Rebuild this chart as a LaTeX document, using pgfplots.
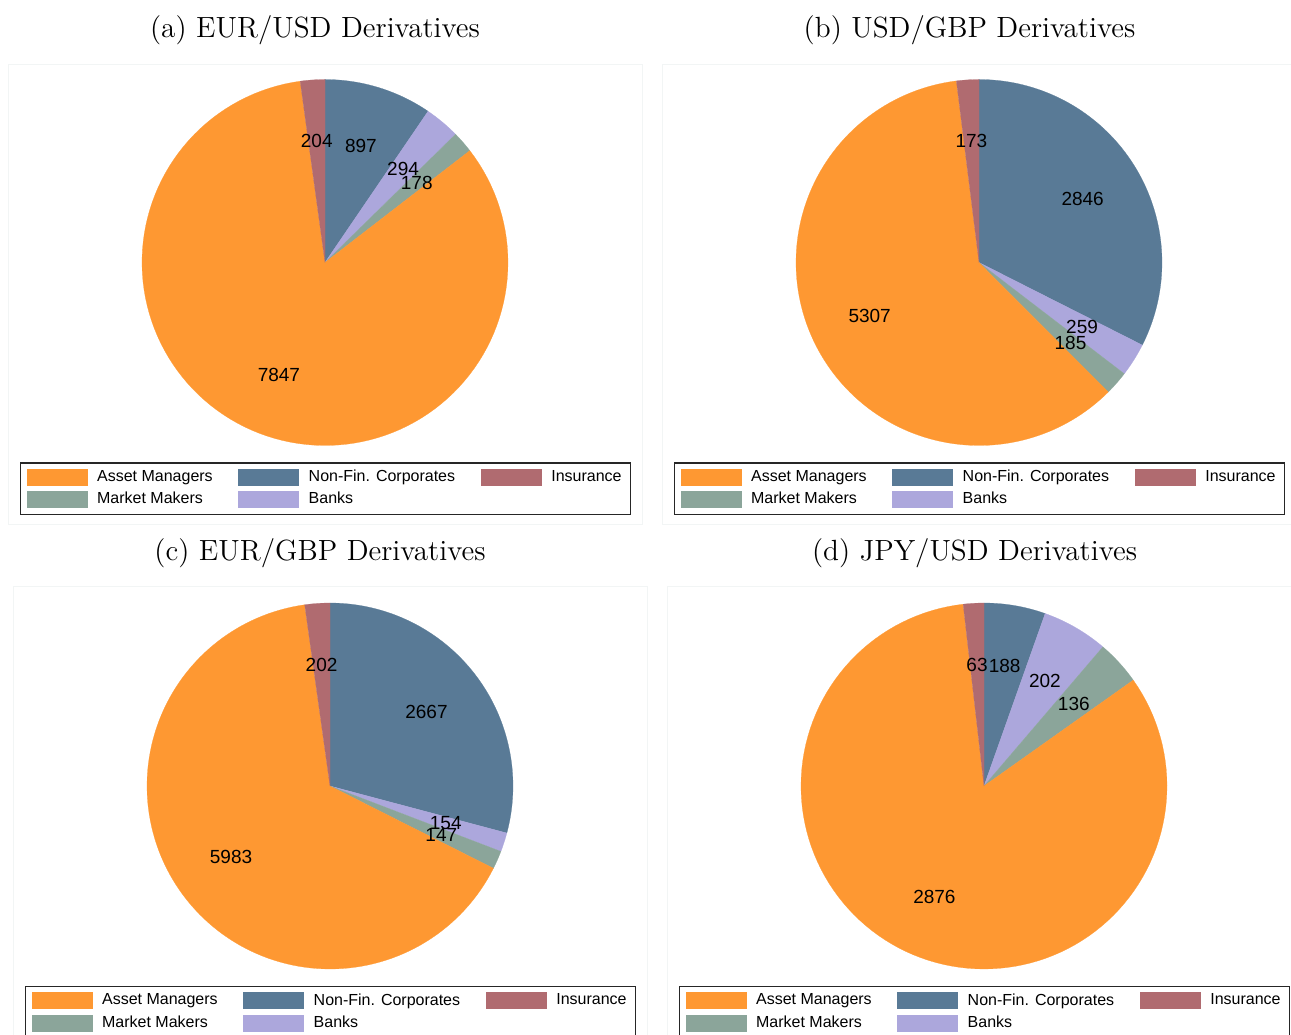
\documentclass[border=0pt]{standalone}
\usepackage{fontspec}
\usepackage{pgfplots}
\pgfplotsset{compat=1.18}
\newfontfamily\sansf{Liberation Sans}
\definecolor{amcol}{RGB}{254,152,50}
\definecolor{nfcol}{RGB}{89,122,150}
\definecolor{bkcol}{RGB}{172,167,220}
\definecolor{mmcol}{RGB}{139,165,154}
\definecolor{incol}{RGB}{176,107,112}
\definecolor{panelcol}{RGB}{242,245,245}
\newcommand{\lblfont}{\sansf\fontsize{9.5}{11}\selectfont}
\newcommand{\legfont}{\sansf\fontsize{8}{9.6}\selectfont}
\newcommand{\ttlfont}{\fontsize{14.6}{17.5}\selectfont}

\newcommand{\pieslice}[4]{% start, value, total, color
  \pgfmathsetmacro{\aS}{90-(#1)/(#3)*360}%
  \pgfmathsetmacro{\aE}{90-(#1+#2)/(#3)*360}%
  \edef\doit{\noexpand\addplot[fill=#4, draw=#4, line width=0.1pt, domain=\aE:\aS, samples=120, variable=\noexpand\t, forget plot] ({cos(\noexpand\t)},{sin(\noexpand\t)}) -- (axis cs:0,0) -- cycle;}%
  \doit
}
\newcommand{\pielabel}[3]{% start, value, total
  \pgfmathsetmacro{\aM}{90-(#1+0.5*#2)/(#3)*360}%
  \pgfmathsetmacro{\lx}{0.665*cos(\aM)}%
  \pgfmathsetmacro{\ly}{0.665*sin(\aM)}%
  \edef\doit{\noexpand\node[font=\noexpand\lblfont, inner sep=0pt] at (axis cs:\lx,\ly) {#2};}%
  \doit
}
% order: Non-Fin. Corporates, Banks, Market Makers, Asset Managers, Insurance (clockwise from top)
\newcommand{\drawpie}[5]{%
  \pgfmathsetmacro{\tot}{#1+#2+#3+#4+#5}%
  \pgfmathsetmacro{\cA}{#1}%
  \pgfmathsetmacro{\cB}{#1+#2}%
  \pgfmathsetmacro{\cC}{#1+#2+#3}%
  \pgfmathsetmacro{\cD}{#1+#2+#3+#4}%
  \pieslice{0}{#1}{\tot}{nfcol}%
  \pieslice{\cA}{#2}{\tot}{bkcol}%
  \pieslice{\cB}{#3}{\tot}{mmcol}%
  \pieslice{\cC}{#4}{\tot}{amcol}%
  \pieslice{\cD}{#5}{\tot}{incol}%
  \pielabel{0}{#1}{\tot}%
  \pielabel{\cA}{#2}{\tot}%
  \pielabel{\cB}{#3}{\tot}%
  \pielabel{\cC}{#4}{\tot}%
  \pielabel{\cD}{#5}{\tot}%
}
\newcommand{\pielegend}{%
  \addlegendimage{fill=amcol}\addlegendentry{\makebox[70.5pt][l]{Asset Managers}}
  \addlegendimage{fill=nfcol}\addlegendentry{\makebox[86pt][l]{Non-Fin. Corporates}}
  \addlegendimage{fill=incol}\addlegendentry{\makebox[36.5pt][l]{Insurance}}
  \addlegendimage{fill=mmcol}\addlegendentry{\makebox[70.5pt][l]{Market Makers}}
  \addlegendimage{fill=bkcol}\addlegendentry{\makebox[86pt][l]{Banks}}
}
\pgfplotsset{
  piestyle/.style={
    hide axis, clip=false,
    xmin=-1, xmax=1, ymin=-1, ymax=1,
    x=91.5pt, y=91.5pt,
    anchor=center,
    legend columns=3,
    legend cell align=left,
    legend image code/.code={\path[##1, draw=none] (0pt,-4.25pt) rectangle (30.5pt,4.25pt); \path (35pt,0pt);},
    legend style={at={(axis cs:-1.667,-1.092)}, anchor=north west,
      draw=black!85, line width=0.6pt, fill=white,
      inner xsep=3pt, inner ysep=3pt,
      column sep=0pt, row sep=2.6pt,
      font=\legfont,
      nodes={inner sep=0pt, anchor=west}},
  }
}
\begin{document}
\begin{tikzpicture}
\useasboundingbox (0,0) rectangle (645.5pt,517pt);
% light panel frames
\draw[panelcol, line width=0.5pt] (4pt,484.5pt) rectangle (321pt,254.5pt);
\draw[panelcol, line width=0.5pt] (331pt,484.5pt) rectangle (650pt,254.5pt);
\draw[panelcol, line width=0.5pt] (6.5pt,223.5pt) rectangle (323.5pt,-5pt);
\draw[panelcol, line width=0.5pt] (333.5pt,223.5pt) rectangle (650pt,-5pt);
% titles
\node[font=\ttlfont, anchor=base] at (157.5pt,498pt) {(a) EUR/USD Derivatives};
\node[font=\ttlfont, anchor=base] at (484.75pt,498pt) {(b) USD/GBP Derivatives};
\node[font=\ttlfont, anchor=base] at (160pt,236.5pt) {(c) EUR/GBP Derivatives};
\node[font=\ttlfont, anchor=base] at (487.25pt,236.5pt) {(d) JPY/USD Derivatives};

\begin{axis}[piestyle, at={(162.5pt,385.75pt)}]
\drawpie{897}{294}{178}{7847}{204}
\pielegend
\end{axis}

\begin{axis}[piestyle, at={(489.5pt,385.75pt)}]
\drawpie{2846}{259}{185}{5307}{173}
\pielegend
\end{axis}

\begin{axis}[piestyle, at={(165pt,124pt)}]
\drawpie{2667}{154}{147}{5983}{202}
\pielegend
\end{axis}

\begin{axis}[piestyle, at={(492pt,124pt)}]
\drawpie{188}{202}{136}{2876}{63}
\pielegend
\end{axis}
\end{tikzpicture}
\end{document}
